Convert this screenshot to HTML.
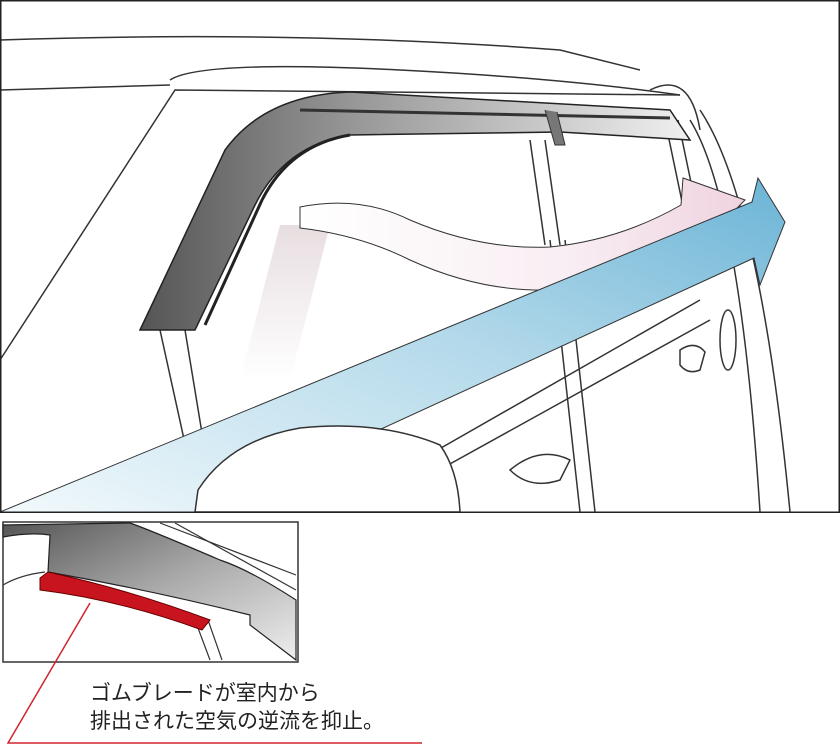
<!DOCTYPE html>
<html><head><meta charset="utf-8"><style>
html,body{margin:0;padding:0;background:#fff;width:840px;height:749px;overflow:hidden}
svg{display:block}
.t{font-family:"Liberation Sans","Noto Sans CJK JP",sans-serif;font-size:21px;fill:#222}
</style></head><body>
<svg width="840" height="749" viewBox="0 0 840 749" xmlns="http://www.w3.org/2000/svg">
<defs>
<linearGradient id="blue" x1="0" y1="1" x2="1" y2="0">
<stop offset="0" stop-color="#f2f9fc"/><stop offset="0.55" stop-color="#b3d9ea"/><stop offset="1" stop-color="#6bb4d6"/></linearGradient>
<linearGradient id="pink" x1="0" y1="0" x2="1" y2="0">
<stop offset="0" stop-color="#ffffff"/><stop offset="0.6" stop-color="#f8eef3"/><stop offset="1" stop-color="#f0d3e0"/></linearGradient>
<linearGradient id="visor" x1="0" y1="0" x2="1" y2="0">
<stop offset="0" stop-color="#555"/><stop offset="0.4" stop-color="#999"/><stop offset="1" stop-color="#f0f0f0"/></linearGradient>
<linearGradient id="visor2" x1="0" y1="0" x2="1" y2="1">
<stop offset="0" stop-color="#555"/><stop offset="0.5" stop-color="#aaa"/><stop offset="1" stop-color="#eee"/></linearGradient>
<linearGradient id="shade" x1="0" y1="0" x2="0" y2="1">
<stop offset="0" stop-color="#d8c8cc"/><stop offset="1" stop-color="#ffffff"/></linearGradient>
</defs>
<g fill="none" stroke="#333" stroke-width="1.5">
<path d="M0 40 Q300 30 560 50 L640 70"/>
<path d="M170 80 Q200 60 400 70 Q560 78 680 95"/>
<path d="M0 360 L175 90 L680 95"/>
<path d="M0 90 L170 85"/>
<path d="M160 330 L200 512"/>
<path d="M185 330 L215 512"/>
<path d="M530 140 L545 245"/><path d="M545 140 L560 245"/>
<path d="M550 240 L580 512"/>
<path d="M565 240 L595 512"/>
<path d="M665 120 L690 240"/><path d="M678 120 L703 240"/>
<path d="M690 120 Q740 200 760 512"/>
<path d="M700 110 Q760 200 790 512"/>
<path d="M420 460 L700 300"/>
<path d="M430 475 L710 320"/>
<path d="M650 90 Q690 70 700 130"/>
<ellipse cx="728" cy="340" rx="8" ry="30"/>
<path d="M510 470 Q540 445 570 460 L560 480 Q530 490 510 470Z"/>
<path d="M680 350 Q695 340 705 352 L700 370 Q688 375 680 365Z"/>
</g>
<path d="M280 225 L330 225 L290 380 L240 380 Z" fill="url(#shade)" opacity="0.6"/>
<!-- visor -->
<path d="M140 330 L225 150 Q265 95 350 92 L670 110 L690 140 L560 132 L350 135 Q285 145 255 205 L195 330 Z" fill="url(#visor)" stroke="#222" stroke-width="1.5"/>
<path d="M350 135 Q290 145 262 200 L205 325" fill="none" stroke="#222" stroke-width="3"/>
<path d="M300 110 L670 118" fill="none" stroke="#333" stroke-width="3"/>
<path d="M545 110 L555 145 L565 145 L557 112" fill="#777" stroke="#333"/>
<!-- pink arrow -->
<path d="M300 207 Q360 195 410 220 Q480 250 550 247 Q620 240 681 205 L683 178 L745 200 L688 258 L690 235 Q620 280 550 290 Q480 292 410 260 Q360 235 300 228 Z" fill="url(#pink)" stroke="#333" stroke-width="1"/>
<!-- blue arrow -->
<path d="M0 512 L752 202 L758 178 L785 222 L760 285 L754 258 L200 512 Z" fill="url(#blue)" stroke="#333" stroke-width="1"/>
<!-- mirror -->
<path d="M195 512 L198 490 Q230 440 300 428 Q380 420 440 445 Q458 470 460 512 Z" fill="#fff" stroke="#333" stroke-width="1.5"/>
<rect x="0.75" y="0.75" width="838.5" height="511.5" fill="none" stroke="#222" stroke-width="1.5"/>
<!-- inset -->
<rect x="3" y="522" width="295" height="140" fill="#fff" stroke="#333" stroke-width="1.5"/>
<g fill="none" stroke="#333" stroke-width="1.2">
<path d="M3 585 Q20 575 45 572"/>
<path d="M195 620 L210 660"/><path d="M208 620 L222 660"/>
<path d="M160 523 L296 575"/><path d="M175 523 L296 590"/>
</g>
<path d="M3 525 L3 537 Q30 532 50 535 L48 572 Q150 590 250 615 L250 625 L296 660 L296 600 Q250 570 220 560 Q150 530 130 523 Z" fill="url(#visor2)" stroke="#222" stroke-width="1.2"/>
<path d="M40 578 L48 572 Q130 590 210 620 L202 630 Q120 600 40 590 Z" fill="#c8141e" stroke="#600" stroke-width="1"/>
<path d="M90 603 L8 743 L422 743" fill="none" stroke="#d0242c" stroke-width="1.5"/>
<text class="t" x="90" y="700">ゴムブレードが室内から</text>
<text class="t" x="90" y="728">排出された空気の逆流を抑止。</text>
</svg>
</body></html>
